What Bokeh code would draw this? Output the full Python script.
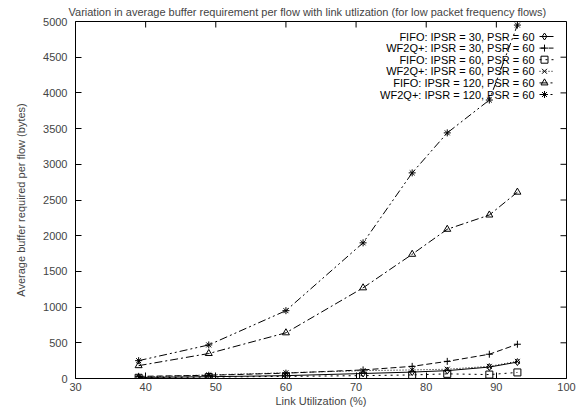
from bokeh.plotting import figure
from bokeh.models import Range1d, LinearAxis, FixedTicker, Label
from bokeh.embed import file_html
from bokeh.resources import INLINE

# ---- data ----
util = [39, 49, 60, 71, 78, 83, 89, 93]
fifo_30 = [15, 25, 40, 70, 90, 110, 160, 230]
wf2q_30 = [30, 45, 75, 120, 170, 240, 340, 480]
fifo_60 = [10, 20, 30, 40, 50, 65, 55, 85]
wf2q_60 = [20, 50, 80, 110, 120, 130, 170, 240]
fifo_120 = [180, 350, 640, 1270, 1740, 2090, 2290, 2610]
wf2q_120 = [250, 470, 950, 1900, 2880, 3440, 3900, 4950]

names = ["FIFO: IPSR = 30, PSR = 60", "WF2Q+: IPSR = 30, PSR = 60",
         "FIFO: IPSR = 60, PSR = 60", "WF2Q+: IPSR = 60, PSR = 60",
         "FIFO: IPSR = 120, PSR = 60", "WF2Q+: IPSR = 120, PSR = 60"]
series = [fifo_30, wf2q_30, fifo_60, wf2q_60, fifo_120, wf2q_120]
markers = ["diamond", "cross", "square", "x", "triangle", "asterisk"]
dashes = ["solid", "6 3", "2 4", "1 2", "8 3 2 3", "8 3 2 3 2 3"]

x_ticks = [30, 40, 50, 60, 70, 80, 90, 100]
y_ticks = list(range(0, 5001, 500))
title_text = "Variation in average buffer requirement per flow with link utlization (for low packet frequency flows)"
x_label = "Link Utilization (%)"
y_label = "Average buffer required per flow (bytes)"

FONT = "Liberation Sans"
FS = "11px"
W, H = 577, 409
ML, MR, MT, MB = 75, 11, 21, H - 378
X0, X1, Y0, Y1 = 30, 100, 0, 5000

p = figure(width=W, height=H, output_backend="svg", toolbar_location=None,
           x_range=Range1d(X0, X1), y_range=Range1d(Y0, Y1),
           min_border_left=ML, min_border_right=MR, min_border_top=MT,
           min_border_bottom=MB, x_axis_location=None, y_axis_location=None)
p.grid.visible = False
p.outline_line_color = "black"
p.outline_line_width = 1
p.background_fill_color = "white"
p.border_fill_color = "white"

p.title.text = title_text
p.title.text_font = FONT
p.title.text_font_size = FS
p.title.text_font_style = "normal"
p.title.align = "left"
p.title.standoff = 7
p.title.offset = -7

fw = W - ML - MR
fh = H - MT - MB
def dx(px):  # canvas px -> data x
    return X0 + (px - ML) / fw * (X1 - X0)
def dy(py):  # canvas px (from top) -> data y
    return Y1 - (py - MT) / fh * (Y1 - Y0)

def style(ax):
    ax.major_tick_in = 6
    ax.major_tick_out = 0
    ax.minor_tick_in = 0
    ax.minor_tick_out = 0
    ax.axis_line_color = None
    ax.major_tick_line_color = "black"
    ax.major_label_text_font = FONT
    ax.major_label_text_font_size = FS
    ax.axis_label_text_font = FONT
    ax.axis_label_text_font_size = FS
    ax.axis_label_text_font_style = "normal"

xb = LinearAxis(ticker=FixedTicker(ticks=x_ticks), axis_label=x_label)
style(xb)
xb.major_label_standoff = 4
xb.axis_label_standoff = 1
p.add_layout(xb, "below")

yl = LinearAxis(ticker=FixedTicker(ticks=y_ticks), axis_label=y_label)
style(yl)
yl.major_label_standoff = 8
yl.axis_label_standoff = 13
p.add_layout(yl, "left")

# mirrored inward ticks on top and right borders
tick_dy = 6 / fh * (Y1 - Y0)
tick_dx = 6 / fw * (X1 - X0)
p.segment(x0=x_ticks, y0=[Y1] * len(x_ticks), x1=x_ticks, y1=[Y1 - tick_dy] * len(x_ticks),
          line_color="black", line_width=1)
p.segment(x0=[X1] * len(y_ticks), y0=y_ticks, x1=[X1 - tick_dx] * len(y_ticks), y1=y_ticks,
          line_color="black", line_width=1)

for ys, mk, dsh in zip(series, markers, dashes):
    p.line(util, ys, line_color="black", line_width=1, line_dash=dsh)
    p.scatter(util, ys, marker=mk, size=7, line_color="black", fill_color=None, line_width=1)

# ---- gnuplot-style key (text right, sample to its right) ----
key_text_right = 534
key_top = 36
key_step = 11.6
for i, (nm, mk, dsh) in enumerate(zip(names, markers, dashes)):
    yy = key_top + i * key_step
    p.add_layout(Label(x=dx(key_text_right), y=dy(yy), text=nm, text_font=FONT,
                       text_font_size=FS, text_align="right",
                       text_baseline="middle", text_color="black"))
    p.line([dx(539), dx(553)], [dy(yy), dy(yy)], line_color="black", line_width=1, line_dash=dsh)
    p.scatter([dx(544)], [dy(yy)], marker=mk, size=7, line_color="black", fill_color=None, line_width=1)

open("out.html", "w").write(file_html(p, INLINE))
